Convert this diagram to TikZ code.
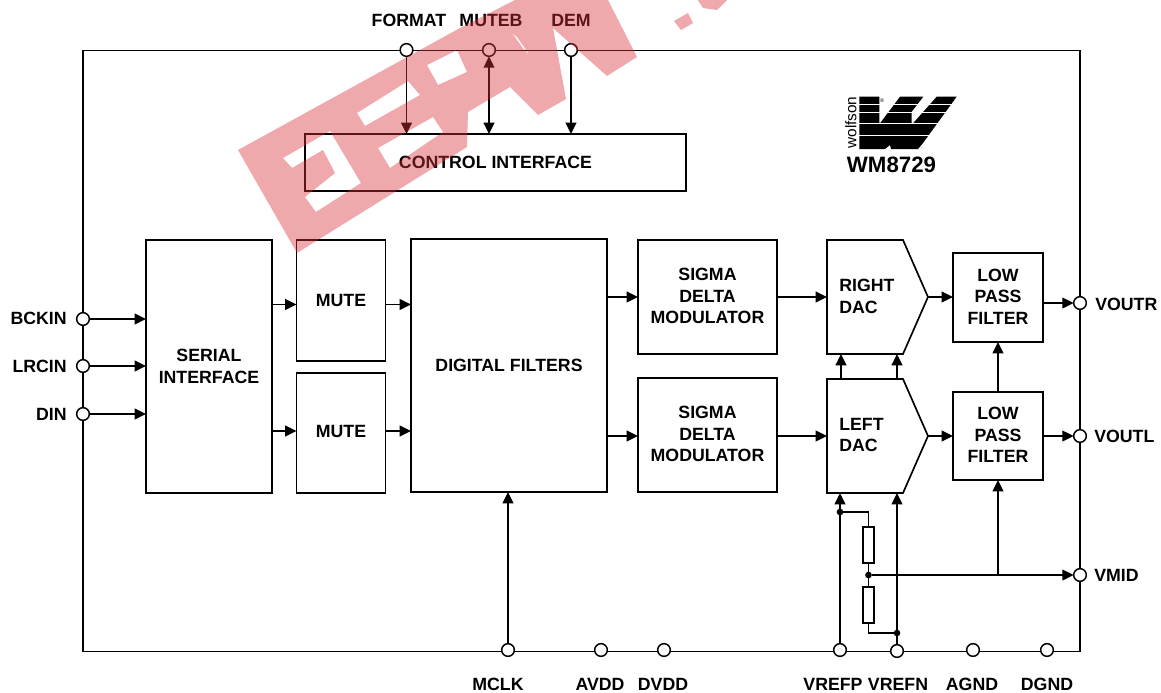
\documentclass[tikz,border=0pt]{standalone}
\usepackage{fontspec}
\setmainfont{Liberation Sans}
\usetikzlibrary{arrows.meta,calc}
\definecolor{wmred}{RGB}{217,48,58}
\tikzset{
  wire/.style={line width=1.25pt,draw=black},
  arr/.style={wire,-{Triangle[length=8.5pt,width=8pt]}},
  biarr/.style={wire,{Triangle[length=8.5pt,width=8pt]}-{Triangle[length=8.5pt,width=8pt]}},
  blk/.style={draw=black,line width=1.25pt,fill=none,inner sep=0pt,outer sep=0pt,align=center,font=\lab},
  pin/.style={circle,draw=black,line width=1.1pt,fill=white,minimum size=9.5pt,inner sep=0pt,outer sep=0pt},
  dot/.style={circle,fill=black,minimum size=5pt,inner sep=0pt,outer sep=0pt},
  plabel/.style={font=\lab,inner sep=0pt},
  res/.style={draw=black,line width=1.25pt,fill=white,inner sep=0pt,outer sep=0pt,minimum width=8.2pt,minimum height=27pt}
}
\newcommand{\lab}{\fontsize{13.3}{16}\selectfont\bfseries}
\newcommand{\blk}[7][0pt]{\node[blk,text depth=#1,minimum width={(#4-#2)*0.75pt},minimum height={(#5-#3)*0.75pt}] (#2) at ({(#3+#5)/2},{(#4+#6)/2}) {#7};}
\renewcommand{\blk}[7][]{\node[blk,#1,minimum width={(#5-#3)*0.75pt},minimum height={(#6-#4)*0.75pt}] (#2) at ({(#3+#5)/2},{(#4+#6)/2}) {#7};}
\begin{document}
\begin{tikzpicture}[x=0.75pt,y=-0.75pt]
\useasboundingbox (0,0) rectangle (1161,693);
% chip outline
\node[draw=black,line width=1.25pt,inner sep=0pt,outer sep=0pt,minimum width={997*0.75pt},minimum height={601*0.75pt}] (chip) at (581.5,351) {};
% blocks
\blk{ctrl}{305}{134}{686}{191}{CONTROL INTERFACE}
\blk{serial}{146}{240}{272}{493}{SERIAL\\INTERFACE}
\blk{muteA}{296.5}{240}{385.5}{361}{MUTE}
\blk[text depth=3pt]{muteB}{296.5}{373}{385.5}{493}{MUTE}
\blk{df}{411}{239}{607}{492}{DIGITAL FILTERS}
\blk[text depth=1.5pt]{sdA}{638}{240}{777}{354}{SIGMA\\DELTA\\MODULATOR}
\blk[text depth=1.5pt]{sdB}{638}{378}{777}{492}{SIGMA\\DELTA\\MODULATOR}
\blk[text depth=1.5pt]{lpfA}{953}{253}{1043}{342}{LOW\\PASS\\FILTER}
\blk[text depth=1.5pt]{lpfB}{953}{392}{1043}{480}{LOW\\PASS\\FILTER}
% DACs
\node[inner sep=0pt,outer sep=0pt,minimum width={101*0.75pt},minimum height={114*0.75pt}] (dacA) at (877.5,297) {};
\node[inner sep=0pt,outer sep=0pt,minimum width={101*0.75pt},minimum height={114*0.75pt}] (dacB) at (877.5,436) {};
\draw[wire,line join=miter] (dacA.north west) -- ++(76,0) -- (dacA.east) -- ($(dacA.south west)+(76,0)$) -- (dacA.south west) -- cycle;
\draw[wire,line join=miter] (dacB.north west) -- ++(76,0) -- (dacB.east) -- ($(dacB.south west)+(76,0)$) -- (dacB.south west) -- cycle;
\node[plabel,anchor=west,align=left] (dacAt) at (839,296.5) {RIGHT\\DAC};
\node[plabel,anchor=west,align=left] (dacBt) at (839,435) {LEFT\\DAC};
% pins
\foreach \n/\x/\y in {pF/406.5/50,pM/489/50,pD/571/50,pB/83/319,pL/83/366,pI/83/414,pVR/1080/303,pVL/1080/436,pVM/1080/575,pMC/508/650,pAV/601/650,pDV/664/650,pVP/840/650,pVN/897/651,pAG/973/650,pDG/1047/650}
  \node[pin] (\n) at (\x,\y) {};
% pin labels
\node[plabel] (tF) at (409,20) {FORMAT};
\node[plabel] (tM) at (491,20) {MUTEB};
\node[plabel] (tD) at (571,20) {DEM};
\node[plabel,anchor=east] (tB) at (67,318) {BCKIN};
\node[plabel,anchor=east] (tL) at (67,366) {LRCIN};
\node[plabel,anchor=east] (tI) at (67,414) {DIN};
\node[plabel,anchor=west] (tVR) at (1095,304) {VOUTR};
\node[plabel,anchor=west] (tVL) at (1094,436) {VOUTL};
\node[plabel,anchor=west] (tVM) at (1094,575) {VMID};
\node[plabel] (tMC) at (498,684) {MCLK};
\node[plabel] (tAV) at (600,684) {AVDD};
\node[plabel] (tDV) at (663,684) {DVDD};
\node[plabel] (tVP) at (833,684) {VREFP};
\node[plabel] (tVN) at (898,684) {VREFN};
\node[plabel] (tAG) at (972,684) {AGND};
\node[plabel] (tDG) at (1047,684) {DGND};
% control arrows
\draw[arr] (pF) -- (pF |- ctrl.north);
\draw[biarr] (pM) -- (pM |- ctrl.north);
\draw[arr] (pD) -- (pD |- ctrl.north);
% inputs
\draw[arr] (pB) -- (pB -| serial.west);
\draw[arr] (pL) -- (pL -| serial.west);
\draw[arr] (pI) -- (pI -| serial.west);
% data path
\coordinate (ya) at (0,304.5);
\coordinate (yb) at (0,431);
\coordinate (yc) at (0,297);
\coordinate (yd) at (0,436);
\draw[arr] (serial.east |- ya) -- (muteA.west |- ya);
\draw[arr] (serial.east |- yb) -- (muteB.west |- yb);
\draw[arr] (muteA.east |- ya) -- (df.west |- ya);
\draw[arr] (muteB.east |- yb) -- (df.west |- yb);
\draw[arr] (df.east |- yc) -- (sdA.west |- yc);
\draw[arr] (df.east |- yd) -- (sdB.west |- yd);
\draw[arr] (sdA.east |- yc) -- (dacA.west |- yc);
\draw[arr] (sdB.east |- yd) -- (dacB.west |- yd);
\draw[arr] (dacA.east) -- (lpfA.west |- dacA.east);
\draw[arr] (dacB.east) -- (lpfB.west |- dacB.east);
\draw[arr] (lpfA.east |- pVR) -- (pVR);
\draw[arr] (lpfB.east |- pVL) -- (pVL);
\draw[arr] (lpfB.north) -- (lpfA.south);
\draw[arr] (pMC) -- (pMC |- df.south);
% between DACs
\coordinate (xl) at (841,0);
\draw[arr] (xl |- dacB.north) -- (xl |- dacA.south);
\draw[arr] (pVN |- dacB.north) -- (pVN |- dacA.south);
\draw[arr] (pVP) -- (pVP |- dacB.south);
\draw[arr] (pVN) -- (pVN |- dacB.south);
% reference divider
\node[res] (rA) at (868.5,545) {};
\node[res] (rB) at (868.5,605) {};
\node[dot] (jT) at (840,512) {};
\node[dot] (jM) at (868.5,575) {};
\node[dot] (jB) at (897,633) {};
\coordinate (jV) at (lpfB.south |- jM);
\draw[wire] (jT) -| (rA.north);
\draw[wire] (rA.south) -- (jM);
\draw[wire] (jM) -- (rB.north);
\draw[wire] (rB.south) |- (jB);
\draw[arr] (jM) -- (pVM);
\draw[arr] (jV) -- (lpfB.south);
% logo
\node[font=\fontsize{11.5}{12}\selectfont,rotate=90,inner sep=0pt] (wolf) at (851,122.5) {wolfson};
\fill[black] (859.3,96.7) -- (879.3,96.7) -- (879.3,123.3) -- (880,123.3) -- (900,96.7) -- (923.3,96.7) -- (911.7,111.7) -- (911.7,123.3) -- (913,123.3) -- (936.7,96.7) -- (956.7,96.7) -- (923,143) -- (918,149) -- (891,149) -- (890,145) -- (885,149) -- (859.3,149) -- cycle;
\foreach \y in {104,112.3,123.3,135}
  \draw[white,line width=0.35pt] (858,\y) -- (958,\y);
\node[font=\fontsize{4}{4}\selectfont,inner sep=0pt] (regm) at (882,100.5) {®};
\node[font=\fontsize{16.7}{18}\selectfont\bfseries,inner sep=0pt] (wm) at (891.5,165) {WM8729};
% watermark
\begin{scope}
\clip (0,0) rectangle (1161,693);
\fill[wmred,fill opacity=0.42,even odd rule]
  (238,150) -- (460,28) -- (515,0) -- (608,0) -- (637,57) -- (607,76) -- (553,28) -- (566,99) -- (538,115) -- (510,87) -- (468,112) -- (467,147) -- (297,253) -- cycle
  (357,113) -- (408,81) -- (420,95) -- (365,126) -- cycle
  (378,148) -- (433,117) -- (443,132) -- (390,168) -- cycle
  (283,158) -- (330,131) -- (361,183) -- (316,212) -- (305,197) -- (335,173) -- (323,150) -- (292,168) -- cycle
  (427,65) -- (457,50) -- (467,72) -- (438,85) -- cycle
  (512,33) -- (517,37) -- (531,57) -- (522,47) -- cycle;
\fill[wmred,fill opacity=0.42] (674,21) -- (688,13) -- (693,23) -- (681,30) -- cycle;
\fill[wmred,fill opacity=0.42] (697,-1) -- (703,8) -- (717,10) -- (728,-1) -- cycle;
\end{scope}
\end{tikzpicture}
\end{document}
